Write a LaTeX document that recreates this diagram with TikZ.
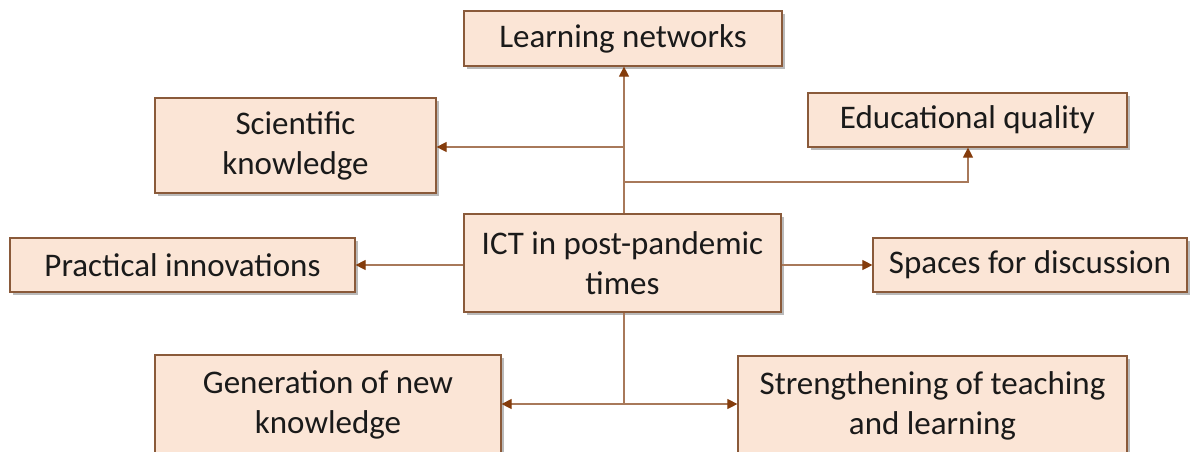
\documentclass[tikz,border=0pt]{standalone}
\usepackage{fontspec}
\setmainfont{Carlito}
\usetikzlibrary{shadows,arrows.meta}
\definecolor{boxfill}{HTML}{FBE5D6}
\definecolor{boxline}{HTML}{8A5A3A}
\definecolor{linkline}{HTML}{A8795A}
\definecolor{tipcol}{HTML}{843C0C}
\definecolor{ink}{HTML}{1A1A1A}
\tikzset{
  topic/.style={draw=boxline, line width=1.2pt, fill=boxfill, inner sep=0pt,
    align=center, text=ink, font=\fontsize{33}{40}\selectfont,
    drop shadow={shadow xshift=3pt, shadow yshift=-3pt, opacity=0.45, fill=black!60}},
  link/.style={draw=linkline, line width=1.1pt},
  tolink/.style={link, -{Triangle[length=10pt,width=10pt,fill=tipcol,color=tipcol]}},
}
\begin{document}
\begin{tikzpicture}[x=1pt,y=-1pt]
\useasboundingbox (0,0) rectangle (1190,451);
% boxes, given by pixel extents
\node[topic, minimum width=318pt, minimum height=55pt] (net) at (623,38.5) {Learning networks};
\node[topic, minimum width=281pt, minimum height=95pt] (sci) at (295.5,145.5) {Scientific\\knowledge};
\node[topic, minimum width=319pt, minimum height=54pt] (edu) at (967.5,120) {Educational quality};
\node[topic, minimum width=345pt, minimum height=54pt] (prac) at (182.5,265) {Practical innovations};
\node[topic, minimum width=317pt, minimum height=98pt] (ict) at (622.5,263) {ICT in post-pandemic\\times};
\node[topic, minimum width=314pt, minimum height=54pt] (spa) at (1030,265) {Spaces for discussion};
\node[topic, minimum width=346pt, minimum height=100pt] (gen) at (328,405) {Generation of new\\knowledge};
\node[topic, minimum width=389pt, minimum height=100pt] (str) at (932.5,406) {Strengthening of teaching\\and learning};
% junction points on the trunk
\coordinate (jsci) at (624,147);
\coordinate (jedu) at (624,182);
\coordinate (jbot) at (624,404);
\coordinate (cedu) at (968,182);
% connectors
\draw[tolink] (ict.north -| jsci) -- (net.south -| jsci);
\draw[tolink] (jsci) -- (sci.east |- jsci);
\draw[tolink] (jedu) -- (cedu) -- (edu.south -| cedu);
\draw[tolink] (ict.west |- prac) -- (prac.east);
\draw[tolink] (ict.east |- spa) -- (spa.west);
\draw[link] (ict.south -| jbot) -- (jbot);
\draw[tolink] (jbot) -- (gen.east |- jbot);
\draw[tolink] (jbot) -- (str.west |- jbot);
\end{tikzpicture}
\end{document}
